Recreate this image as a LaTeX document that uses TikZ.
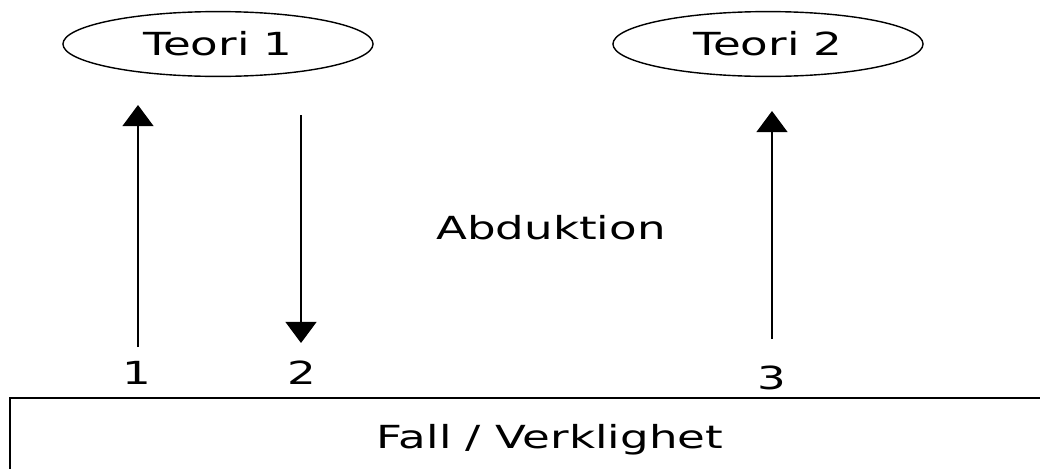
\documentclass[tikz,border=0pt]{standalone}
\usepackage{fontspec}
\setmainfont{DejaVu Sans}[FakeStretch=1.42]
\usepackage{tikz}
\usetikzlibrary{shapes.geometric,arrows.meta,positioning}

\begin{document}
\begin{tikzpicture}[x=0.025cm, y=-0.025cm,
    font=\fontsize{22.6}{26}\selectfont,
    theory/.style={ellipse, draw, line width=1pt, minimum width=7.75cm, minimum height=1.62cm, inner sep=0pt},
    ground/.style={rectangle, draw, line width=1pt, minimum width=27cm, minimum height=2.1cm},
    arrow/.style={-{Triangle[width=22pt,length=15pt]}, line width=1.1pt}]
    \useasboundingbox (0,0) rectangle (1040,468);

    \node[theory] (teori1) at (218,44) {Teori 1};
    \node[theory] (teori2) at (768,44) {Teori 2};
    \node (abd) at (551,228) {Abduktion};
    \node (n1) at (137,373) {1};
    \node (n2) at (302,373) {2};
    \node (n3) at (772,378) {3};
    \node[ground] (fall) at (550,440) {Fall / Verklighet};

    % free ends of the arrows
    \coordinate (up1s) at (138,347);
    \coordinate (up1e) at (138,105);
    \coordinate (dn2s) at (301,115);
    \coordinate (dn2e) at (301,343);
    \coordinate (up3s) at (772,339);
    \coordinate (up3e) at (772,111);

    \draw[arrow] (up1s) -- (up1e);
    \draw[arrow] (dn2s) -- (dn2e);
    \draw[arrow] (up3s) -- (up3e);
\end{tikzpicture}
\end{document}
